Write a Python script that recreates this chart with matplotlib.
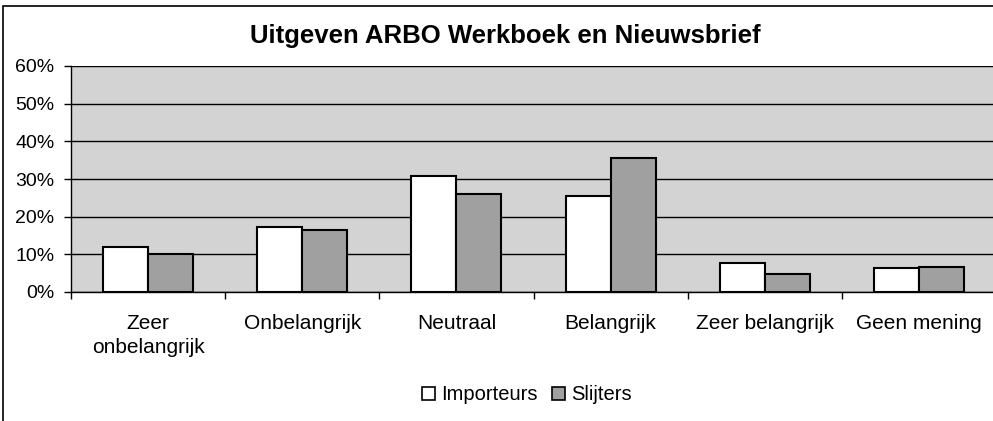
import matplotlib
matplotlib.use("Agg")
import matplotlib.pyplot as plt
from matplotlib.patches import Patch, Rectangle
from matplotlib.ticker import FixedLocator, PercentFormatter
import numpy as np

plt.rcParams['font.family'] = ['Liberation Sans', 'DejaVu Sans']

title = "Uitgeven ARBO Werkboek en Nieuwsbrief"
categories = ["Zeer\nonbelangrijk", "Onbelangrijk", "Neutraal", "Belangrijk",
              "Zeer belangrijk", "Geen mening"]
importeurs = [12.0, 17.3, 30.8, 25.4, 7.8, 6.3]
slijters = [10.0, 16.4, 25.9, 35.5, 4.7, 6.7]
series_names = ["Importeurs", "Slijters"]
yticks = [0, 10, 20, 30, 40, 50, 60]

W, H = 993, 421
fig = plt.figure(figsize=(W / 100, H / 100), dpi=100)
fig.patch.set_facecolor('white')
# outer chart frame (extends past right/bottom edges)
fig.patches.append(Rectangle((3 / W, -0.1), 1.2, 1 - 6 / H + 0.1, transform=fig.transFigure,
                             fill=False, edgecolor='black', linewidth=1.2))

left, right, top, bottom = 71, 996, 66, 292
ax = fig.add_axes([left / W, 1 - bottom / H, (right - left) / W, (bottom - top) / H])
ax.set_facecolor('#D3D3D3')

x = np.arange(len(categories))
bw = 0.292
ax.bar(x - bw / 2, importeurs, bw, color='white', edgecolor='black', linewidth=1.5, zorder=3)
ax.bar(x + bw / 2, slijters, bw, color='#A0A0A0', edgecolor='black', linewidth=1.5, zorder=3)

ax.set_xlim(-0.5, len(categories) - 0.5)
ax.set_ylim(0, 60)
ax.set_yticks(yticks)
ax.yaxis.set_major_formatter(PercentFormatter(decimals=0))
ax.yaxis.grid(True, color='black', linewidth=1.0, zorder=1)
ax.set_axisbelow(True)

ax.set_xticks(x)
ax.set_xticklabels(categories, linespacing=1.32)
ax.xaxis.set_minor_locator(FixedLocator(np.arange(-0.5, len(categories), 1.0)))
ax.tick_params(axis='x', which='major', length=0, pad=16, labelsize=15)
ax.tick_params(axis='x', which='minor', length=5, width=1, color='black', direction='out')
ax.tick_params(axis='y', length=5, width=1, direction='out', labelsize=14, pad=7)

for s in ['top', 'right']:
    ax.spines[s].set_visible(False)
ax.spines['left'].set_color('black')
ax.spines['bottom'].set_color('black')
ax.spines['left'].set_linewidth(1.0)
ax.spines['bottom'].set_linewidth(1.0)

fig.text(505 / W, 1 - 43 / H, title, ha='center', va='baseline', fontsize=18.5, fontweight='bold')

handles = [Patch(facecolor='white', edgecolor='black', linewidth=1.2),
           Patch(facecolor='#A0A0A0', edgecolor='black', linewidth=1.2)]
fig.legend(handles, series_names, loc='center', bbox_to_anchor=(527 / W, 1 - 395 / H),
           ncol=2, frameon=False, fontsize=14.5, handlelength=0.65, handleheight=0.65,
           handletextpad=0.3, columnspacing=0.7, borderpad=0.2)

fig.savefig("out.png", dpi=100)
